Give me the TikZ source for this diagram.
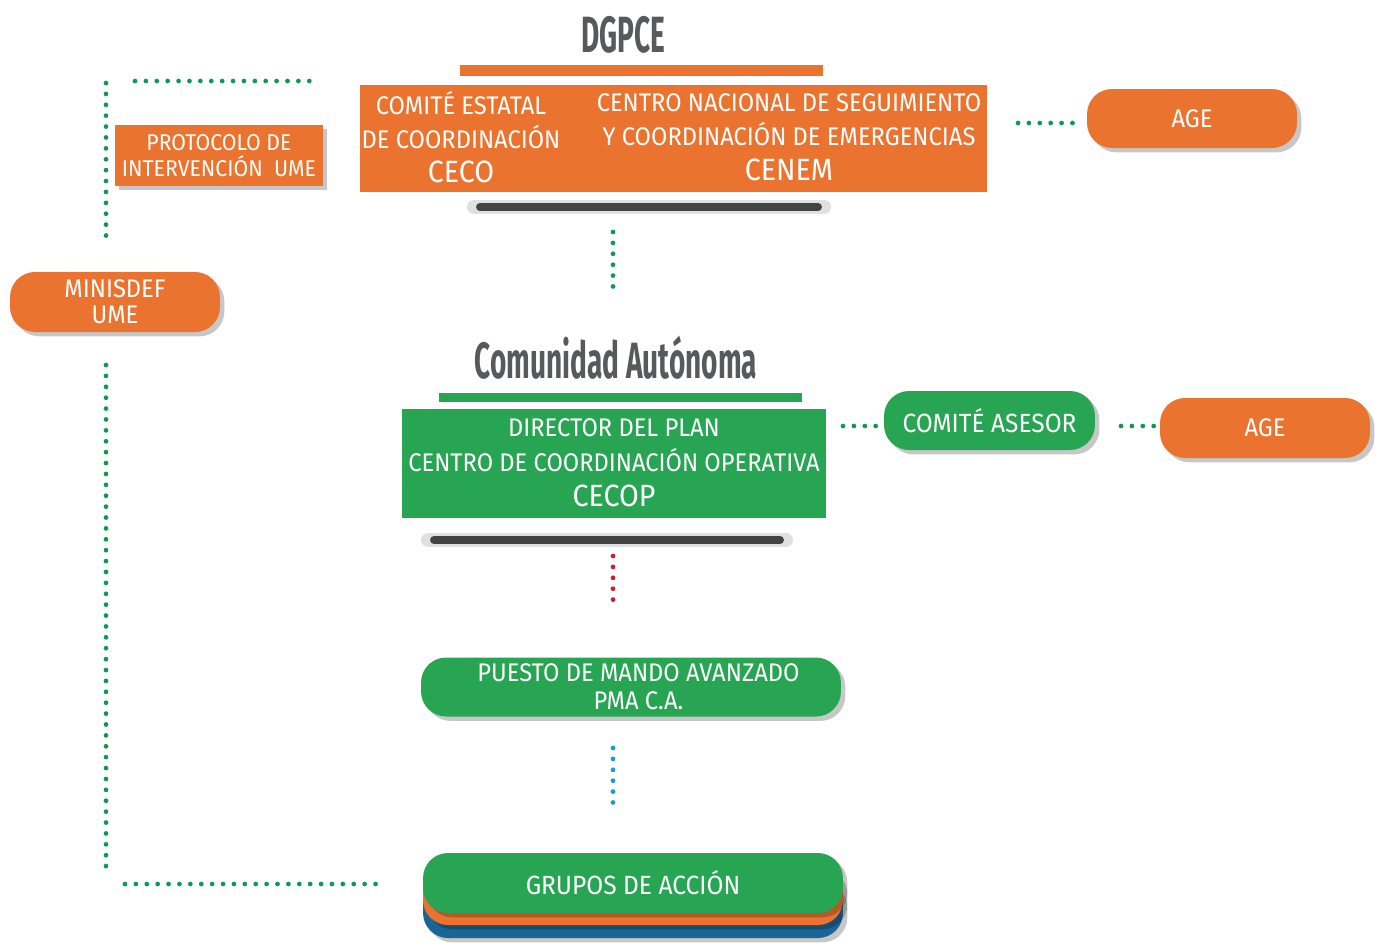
\documentclass[tikz,border=0pt]{standalone}
\usepackage{fontspec}
\setmainfont{Fira Sans}[FakeStretch=0.93]
\newfontfamily\headfont{Fira Sans}[FakeStretch=0.55]
\usetikzlibrary{shadows}

\definecolor{naranja}{HTML}{EB7330}
\definecolor{verde}{HTML}{28A553}
\definecolor{azul}{HTML}{1A6496}
\definecolor{puntoverde}{HTML}{0E9A55}
\definecolor{puntorojo}{HTML}{D7192F}
\definecolor{puntoazul}{HTML}{1A9AD6}
\definecolor{gris}{HTML}{58595B}

\begin{document}
\begin{tikzpicture}[x=0.02cm, y=-0.02cm, font=\fontsize{14.5}{17}\selectfont]
	\tikzstyle{caja} = [inner sep=0pt, text=white, align=center]
	\tikzstyle{sombra} = [drop shadow={shadow xshift=2.5pt, shadow yshift=-2.5pt, opacity=.22, fill=black}]
	\tikzstyle{pastilla} = [caja, sombra, rounded corners=0.5cm, minimum width=4.2cm, minimum height=1.2cm]
	\tikzstyle{titulo} = [text=gris, font=\headfont\bfseries\fontsize{29}{30}\selectfont]
	\tikzstyle{barra} = [inner sep=0pt, minimum width=7.26cm]
	\tikzstyle{dots} = [line width=2.7pt, line cap=round, dash pattern=on 0pt off 6.2pt]
	\tikzstyle{mancha} = [line cap=round, black]
	\useasboundingbox (0,0) rectangle (1375,944);

	% estado
	\node[titulo] (dgpce) at (623,35) {DGPCE};
	\node[barra, fill=naranja, minimum height=0.22cm] (barnar) at (641.5,70.5) {};
	\node[caja, fill=naranja, minimum width=12.54cm, minimum height=2.14cm] (cecobox) at (673.5,138.5) {};
	\node[caja, font=\fontsize{14.5}{19.5}\selectfont] (cecotxt) at (461,137)
		{COMITÉ ESTATAL\\DE COORDINACIÓN\\{\fontsize{17.5}{19.5}\selectfont CECO}};
	\node[caja, font=\fontsize{14.5}{19.5}\selectfont] (cenemtxt) at (789,137)
		{CENTRO NACIONAL DE SEGUIMIENTO\\Y COORDINACIÓN DE EMERGENCIAS\\{\fontsize{17.5}{19.5}\selectfont CENEM}};
	\draw[mancha, line width=8pt, opacity=.12] (474,207) -- (824,207);
	\draw[mancha, line width=4.5pt, opacity=.7] (480,207) -- (818,207);

	% comunidad autonoma
	\node[titulo] (ca) at (616,358) {Comunidad Autónoma};
	\node[barra, fill=verde, minimum height=0.18cm] (barver) at (620.5,397.5) {};
	\node[caja, fill=verde, minimum width=8.48cm, minimum height=2.18cm, font=\fontsize{14.5}{20}\selectfont] (cecop) at (614,463)
		{DIRECTOR DEL PLAN\\CENTRO DE COORDINACIÓN OPERATIVA\\{\fontsize{17.5}{20}\selectfont CECOP}};
	\draw[mancha, line width=8pt, opacity=.12] (428,540) -- (786,540);
	\draw[mancha, line width=4.5pt, opacity=.7] (434,540) -- (780,540);

	\node[pastilla, fill=verde, minimum width=8.4cm, minimum height=1.18cm, font=\fontsize{14.5}{16}\selectfont] (pma) at (631,687)
		{\hspace*{0.3cm}PUESTO DE MANDO AVANZADO\\\hspace*{0.3cm}PMA C.A.};

	\node[pastilla, fill=azul, minimum width=8.4cm] (grupazu) at (633,908) {};
	\node[pastilla, fill=naranja, minimum width=8.4cm] (grupnar) at (633,895) {};
	\node[pastilla, fill=verde, minimum width=8.4cm, font=\fontsize{15}{16}\selectfont] (grupos) at (633,883) {GRUPOS DE ACCIÓN};

	% ume
	\node[caja, sombra, fill=naranja, minimum width=4.16cm, minimum height=1.22cm, font=\fontsize{13}{15}\selectfont] (protocolo) at (219,155.5)
		{PROTOCOLO DE\\INTERVENCIÓN\ \ UME};
	\node[pastilla, fill=naranja, font=\fontsize{14.5}{15}\selectfont] (minisdef) at (115,302) {MINISDEF\\UME};

	% apoyos
	\node[pastilla, fill=naranja, minimum height=1.18cm] (age1) at (1192,118.5) {AGE};
	\node[pastilla, fill=verde, minimum width=4.22cm, minimum height=1.18cm, font=\fontsize{15}{16}\selectfont] (asesor) at (989.5,420.5) {COMITÉ ASESOR};
	\node[pastilla, fill=naranja] (age2) at (1265,428) {AGE};

	% enlaces
	\coordinate (u1) at (135,81);
	\coordinate (u2) at (317,81);
	\coordinate (u3) at (106,83);
	\coordinate (u4) at (106,238);
	\coordinate (u5) at (106,365);
	\coordinate (u6) at (106,874);
	\coordinate (u7) at (125,884);
	\coordinate (u8) at (378,884);
	\coordinate (e1) at (613,232);
	\coordinate (e2) at (613,295);
	\coordinate (e3) at (613,556);
	\coordinate (e4) at (613,609);
	\coordinate (e5) at (613,748);
	\coordinate (e6) at (613,808);
	\coordinate (a1) at (1018,123);
	\coordinate (a2) at (843,426);
	\coordinate (a3) at (1121,426);

	\draw[dots, puntoverde] (u1) -- (u2);
	\draw[dots, puntoverde] (u3) -- (u4);
	\draw[dots, puntoverde] (u5) -- (u6);
	\draw[dots, puntoverde] (u7) -- (u8);
	\draw[dots, puntoverde] (e1) -- (e2);
	\draw[dots, puntorojo] (e3) -- (e4);
	\draw[dots, puntoazul] (e5) -- (e6);
	\draw[dots, puntoverde, shorten >=7pt] (a1) -- (age1.west |- a1);
	\draw[dots, puntoverde, shorten >=3pt] (a2) -- (asesor.west |- a2);
	\draw[dots, puntoverde, shorten >=2pt] (a3) -- (age2.west |- a3);
\end{tikzpicture}
\end{document}
